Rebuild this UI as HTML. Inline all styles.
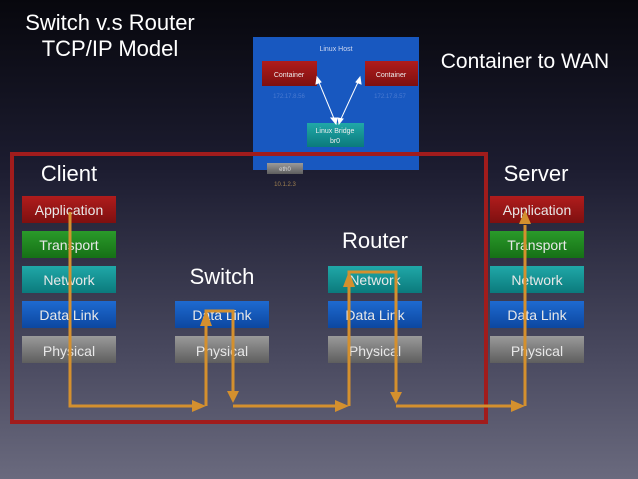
<!DOCTYPE html>
<html><head><style>
html,body{margin:0;padding:0;width:638px;height:479px;overflow:hidden}
body{background:linear-gradient(180deg,#07070d 0%,#1c1c30 35%,#4a4a60 75%,#6a6a7e 100%);font-family:"Liberation Sans",sans-serif}
svg text{font-family:"Liberation Sans",sans-serif}
</style></head><body>
<svg width="638" height="479" viewBox="0 0 638 479">
<defs>
<linearGradient id="gr" x1="0" y1="0" x2="0" y2="1"><stop offset="0" stop-color="#9a9a9a"/><stop offset="1" stop-color="#5e5e5e"/></linearGradient>
<linearGradient id="bl" x1="0" y1="0" x2="0" y2="1"><stop offset="0" stop-color="#1e6ad0"/><stop offset="1" stop-color="#0c47a0"/></linearGradient>
<linearGradient id="cy" x1="0" y1="0" x2="0" y2="1"><stop offset="0" stop-color="#20a8a8"/><stop offset="1" stop-color="#0b7a7c"/></linearGradient>
<linearGradient id="gn" x1="0" y1="0" x2="0" y2="1"><stop offset="0" stop-color="#2a9a2a"/><stop offset="1" stop-color="#167016"/></linearGradient>
<linearGradient id="rd" x1="0" y1="0" x2="0" y2="1"><stop offset="0" stop-color="#b01c1c"/><stop offset="1" stop-color="#7e1010"/></linearGradient>
</defs>
<text x="110" y="30" fill="#fff" font-size="22" text-anchor="middle">Switch v.s Router</text>
<text x="110" y="56" fill="#fff" font-size="22" text-anchor="middle">TCP/IP Model</text>
<text x="525" y="68" fill="#fff" font-size="21" text-anchor="middle">Container to WAN</text>

<rect x="253" y="37" width="166" height="133" fill="#1858c0"/>
<text x="336" y="51" fill="#cfd8f0" font-size="7" text-anchor="middle">Linux Host</text>
<rect x="262" y="61" width="55" height="25" fill="url(#rd)"/>
<text x="289" y="77" fill="#eee" font-size="7" text-anchor="middle">Container</text>
<rect x="365" y="61" width="53" height="25" fill="url(#rd)"/>
<text x="391" y="77" fill="#eee" font-size="7" text-anchor="middle">Container</text>
<text x="289" y="98" fill="#4a7ad0" font-size="6" text-anchor="middle">172.17.8.56</text>
<text x="390" y="98" fill="#4a7ad0" font-size="6" text-anchor="middle">172.17.8.57</text>
<rect x="307" y="123" width="57" height="24" fill="url(#cy)"/>
<text x="335" y="133" fill="#eee" font-size="7" text-anchor="middle">Linux Bridge</text>
<text x="335" y="143" fill="#eee" font-size="7" text-anchor="middle">br0</text>
<g stroke="#fff" stroke-width="1" fill="#fff">
<line x1="318" y1="80" x2="335" y2="121"/><polygon points="317,77 316,84 321,82"/><polygon points="336,124 331,118 337,118"/>
<line x1="359" y1="80" x2="340" y2="121"/><polygon points="360,77 356,82 361,84"/><polygon points="339,124 338,118 343,119"/>
</g>
<rect x="267" y="163" width="36" height="11" fill="url(#gr)"/>
<text x="285" y="171" fill="#ddd" font-size="6" text-anchor="middle">eth0</text>
<text x="285" y="186" fill="#a08050" font-size="6" text-anchor="middle">10.1.2.3</text>

<rect x="12" y="154" width="474" height="268" fill="none" stroke="#a11c1c" stroke-width="4"/>

<text x="69" y="181" fill="#fff" font-size="22" text-anchor="middle">Client</text>
<text x="536" y="181" fill="#fff" font-size="22" text-anchor="middle">Server</text>
<text x="222" y="284" fill="#fff" font-size="22" text-anchor="middle">Switch</text>
<text x="375" y="248" fill="#fff" font-size="22" text-anchor="middle">Router</text>

<g font-size="14" fill="#e8e8e8" text-anchor="middle">
<rect x="22" y="196" width="94" height="27" fill="url(#rd)"/><text x="69" y="215">Application</text>
<rect x="22" y="231" width="94" height="27" fill="url(#gn)"/><text x="69" y="250">Transport</text>
<rect x="22" y="266" width="94" height="27" fill="url(#cy)"/><text x="69" y="285">Network</text>
<rect x="22" y="301" width="94" height="27" fill="url(#bl)"/><text x="69" y="320">Data Link</text>
<rect x="22" y="336" width="94" height="27" fill="url(#gr)"/><text x="69" y="356">Physical</text>

<rect x="175" y="301" width="94" height="27" fill="url(#bl)"/><text x="222" y="320">Data Link</text>
<rect x="175" y="336" width="94" height="27" fill="url(#gr)"/><text x="222" y="356">Physical</text>

<rect x="328" y="266" width="94" height="27" fill="url(#cy)"/><text x="375" y="285">Network</text>
<rect x="328" y="301" width="94" height="27" fill="url(#bl)"/><text x="375" y="320">Data Link</text>
<rect x="328" y="336" width="94" height="27" fill="url(#gr)"/><text x="375" y="356">Physical</text>

<rect x="490" y="196" width="94" height="27" fill="url(#rd)"/><text x="537" y="215">Application</text>
<rect x="490" y="231" width="94" height="27" fill="url(#gn)"/><text x="537" y="250">Transport</text>
<rect x="490" y="266" width="94" height="27" fill="url(#cy)"/><text x="537" y="285">Network</text>
<rect x="490" y="301" width="94" height="27" fill="url(#bl)"/><text x="537" y="320">Data Link</text>
<rect x="490" y="336" width="94" height="27" fill="url(#gr)"/><text x="537" y="356">Physical</text>
</g>

<g stroke="#d4902e" stroke-width="3" fill="none">
<polyline points="70,212 70,406 196,406"/>
<polyline points="206,406 206,311 233,311 233,392"/>
<polyline points="233,406 340,406"/>
<polyline points="349,406 349,272 396,272 396,393"/>
<polyline points="396,406 516,406"/>
<polyline points="525,406 525,225"/>
</g>
<g fill="#d4902e">
<polygon points="206,406 192,400 192,412"/>
<polygon points="206,310 200,326 212,326"/>
<polygon points="233,403 227,391 239,391"/>
<polygon points="349,406 335,400 335,412"/>
<polygon points="349,271 343,287 355,287"/>
<polygon points="396,404 390,392 402,392"/>
<polygon points="525,406 511,400 511,412"/>
<polygon points="525,210 519,224 531,224"/>
</g>
</svg>
</body></html>
